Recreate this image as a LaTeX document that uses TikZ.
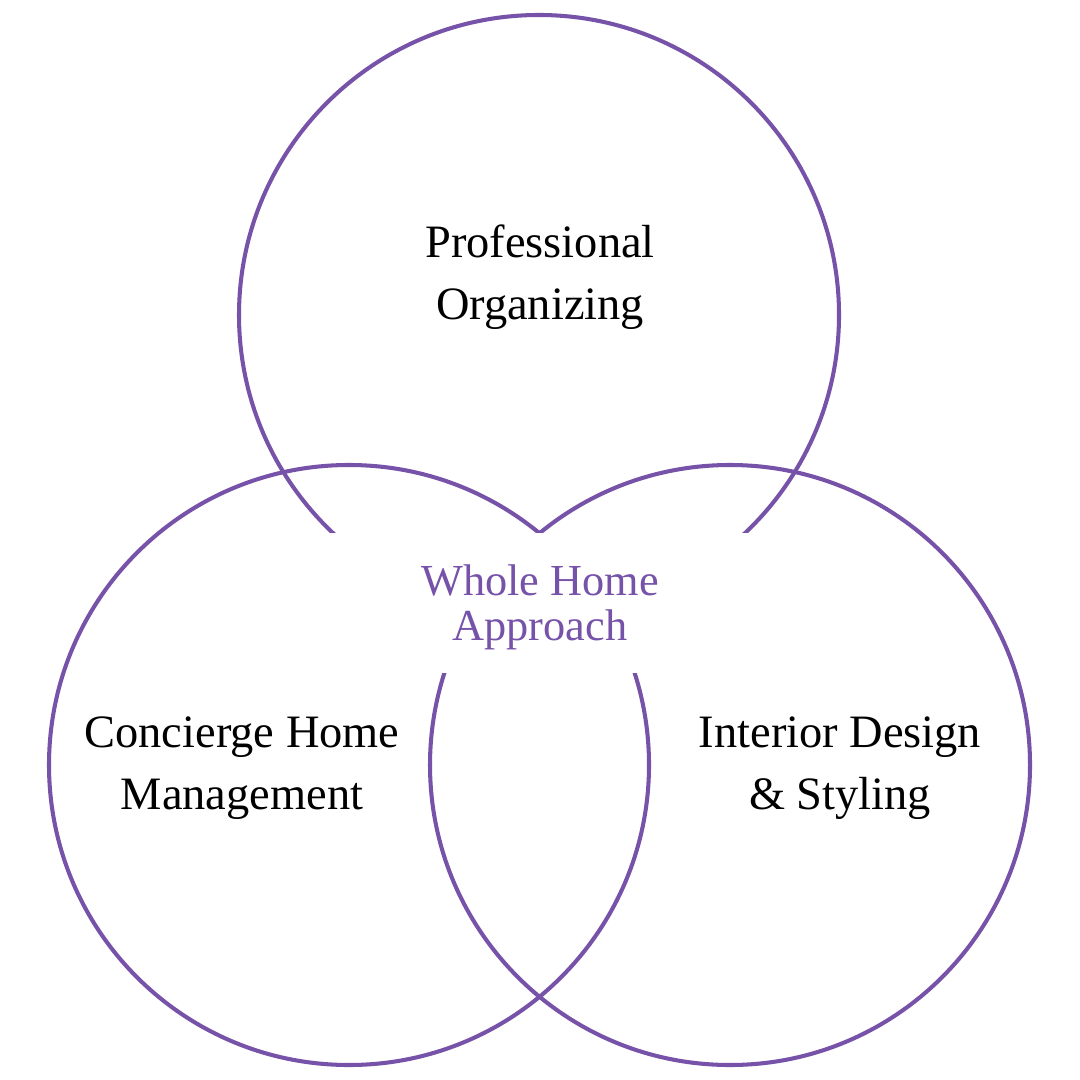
\documentclass[tikz,border=0pt]{standalone}
\usepackage{fontspec}
\setmainfont{Liberation Serif}
\definecolor{vpurple}{HTML}{7652A8}
\begin{document}
\begin{tikzpicture}[x=0.01cm,y=-0.01cm,
  ring/.style={draw=vpurple,line width=1.15pt},
  lab/.style={align=center,font=\fontsize{13.2}{17.6}\selectfont,text=black,inner sep=0pt},
  mid/.style={align=center,font=\fontsize{12.6}{12.8}\selectfont,text=vpurple,inner sep=0pt}]
\useasboundingbox (0,0) rectangle (1080,1080);
\fill[white] (0,0) rectangle (1080,1080);
\draw[ring] (539,315) circle[radius=300];
\draw[ring] (349,765) circle[radius=300];
\draw[ring] (730,765) circle[radius=300];
\fill[white] (330,533) rectangle (752,673);
\node[lab] (po) at (540,277) {Professional\\Organizing};
\node[lab] (ch) at (242,768) {Concierge Home\\Management};
\node[lab] (id) at (840,768) {Interior Design\\\& Styling};
\node[mid] (wh) at (540,607) {Whole Home\\Approach};
\end{tikzpicture}
\end{document}
